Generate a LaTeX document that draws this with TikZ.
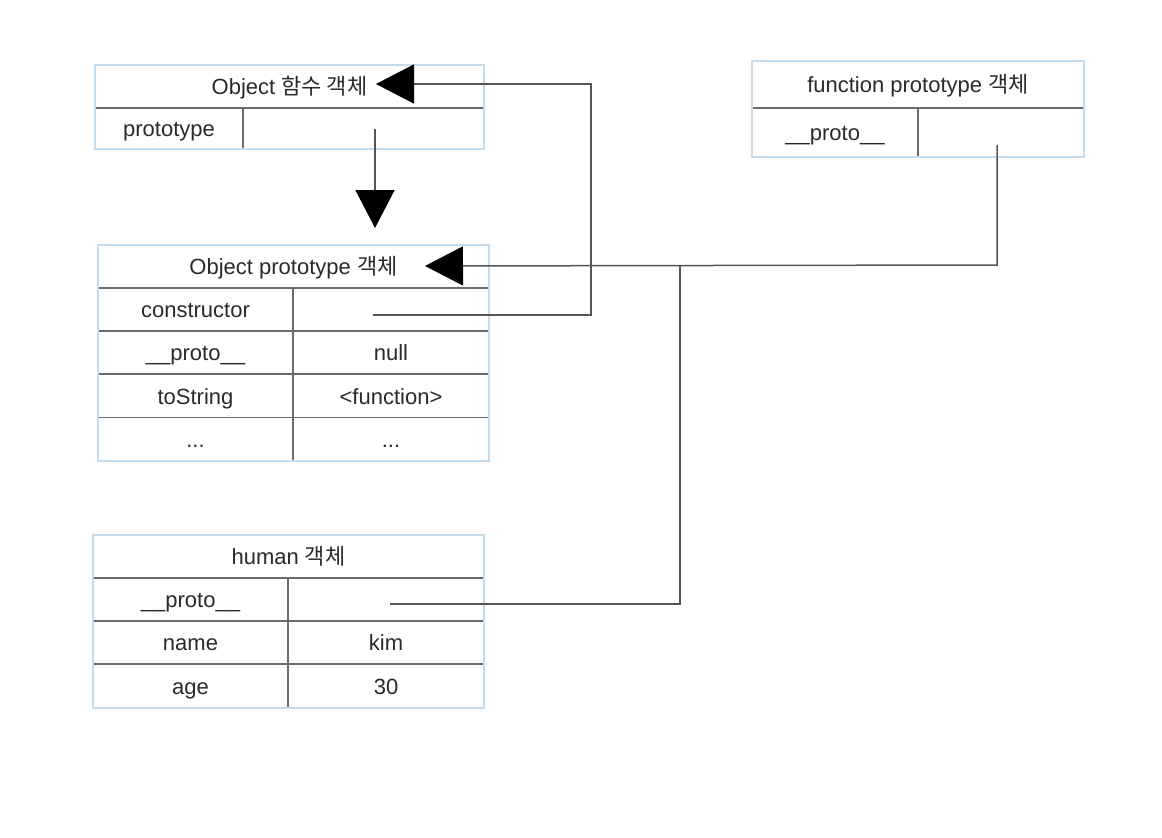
\documentclass[tikz,border=0pt]{standalone}
\usepackage{fontspec}
\setmainfont{Liberation Sans}
\newfontfamily\kr{Noto Sans CJK KR}
\usetikzlibrary{arrows.meta}
\definecolor{framecol}{HTML}{C5DCEE}
\definecolor{gridcol}{HTML}{6A6A6A}
\definecolor{wirecol}{HTML}{555555}
\definecolor{txtcol}{HTML}{2A2A2A}

\begin{document}
\begin{tikzpicture}[x=1pt,y=-1pt,
  lbl/.style={font=\fontsize{22}{26}\selectfont, text=txtcol, inner sep=0pt,
              text height=18pt, text depth=2pt, anchor=center},
  frm/.style={draw=framecol, line width=1.5pt},
  sepline/.style={draw=gridcol, line width=1.6pt},
  wire/.style={draw=wirecol, line width=1.5pt},
  bigtip/.style={-{Triangle[length=38pt,width=39pt,fill=black,color=black]}}]

\useasboundingbox[fill=white] (0,0) rectangle (1162,838);

% ---- Object 함수 객체 ----
\draw[sepline] (96,108) -- (483,108);
\draw[sepline] (243,108) -- (243,148);
\node[frm, minimum width=389pt, minimum height=84pt, inner sep=0pt] (fnobj) at (289.5,107) {};
\node[lbl] (fnobjTitle) at (289.5,86.5) {Object {\kr 함수 객체}};
\node[lbl] (fnobjKey) at (169,128.5) {prototype};
\coordinate (fnobjVal) at (375,129);
\coordinate (fnobjArrowEnd) at (375,228);
\coordinate (fnobjTip) at (376,84);

% ---- function prototype 객체 ----
\draw[sepline] (753,108) -- (1083,108);
\draw[sepline] (918,108) -- (918,156);
\node[frm, minimum width=332pt, minimum height=96pt, inner sep=0pt] (fnproto) at (918,109) {};
\node[lbl] (fnprotoTitle) at (918,84.5) {function prototype {\kr 객체}};
\node[lbl] (fnprotoKey) at (835,132.5) {\_\_proto\_\_};
\coordinate (fnprotoVal) at (997,145);

% ---- Object prototype 객체 ----
\foreach \yy in {288,331,374,417.5} \draw[sepline] (99,\yy) -- (488,\yy);
\draw[sepline] (293,288) -- (293,460);
\node[frm, minimum width=391pt, minimum height=216pt, inner sep=0pt] (objproto) at (293.5,353) {};
\node[lbl] (objprotoTitle) at (293.5,266.5) {Object prototype {\kr 객체}};
\node[lbl] (opK1) at (195.5,309.5) {constructor};
\node[lbl] (opK2) at (195.5,352.5) {\_\_proto\_\_};
\node[lbl] (opV2) at (391,352.5) {null};
\node[lbl] (opK3) at (195.5,396) {toString};
\node[lbl] (opV3) at (391,396) {<function>};
\node[lbl] (opK4) at (195.5,439) {...};
\node[lbl] (opV4) at (391,439) {...};
\coordinate (ctorVal) at (373,315);
\coordinate (objprotoTip) at (425,266);

% ---- human 객체 ----
\foreach \yy in {578,621,664} \draw[sepline] (94,\yy) -- (483,\yy);
\draw[sepline] (288,578) -- (288,707);
\node[frm, minimum width=391pt, minimum height=173pt, inner sep=0pt] (human) at (288.5,621.5) {};
\node[lbl] (humanTitle) at (288.5,556.5) {human {\kr 객체}};
\node[lbl] (hK1) at (190.5,599.5) {\_\_proto\_\_};
\node[lbl] (hK2) at (190.5,642.5) {name};
\node[lbl] (hV2) at (386,642.5) {kim};
\node[lbl] (hK3) at (190.5,686) {age};
\node[lbl] (hV3) at (386,686) {30};
\coordinate (humanVal) at (390,604);

% ---- connectors ----
\coordinate (ctorBend) at (591,315);
\coordinate (fnBend) at (591,84);
\coordinate (fpBend) at (997,265);
\coordinate (join) at (680,265);

\draw[wire, bigtip] (fnobjVal) -- (fnobjArrowEnd);
\draw[wire, bigtip] (ctorVal) -- (ctorBend) -- (fnBend) -- (fnobjTip);
\draw[wire, bigtip] (fnprotoVal) -- (fpBend) -- (objprotoTip);
\draw[wire] (humanVal) -| (join);
\end{tikzpicture}
\end{document}
